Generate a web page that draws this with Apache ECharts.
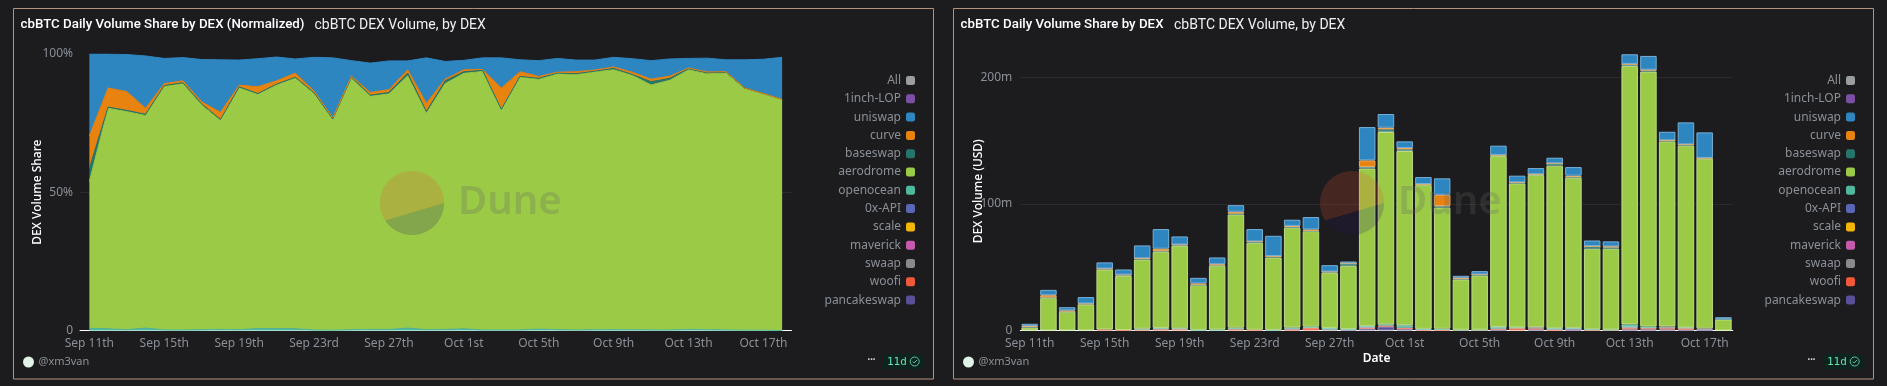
<!DOCTYPE html>
<html>
<head>
<meta charset="utf-8">
<title>cbBTC DEX Volume</title>
<style>
  html, body { margin: 0; padding: 0; background: #1c1c1e; }
  #chart { width: 1887px; height: 386px; }
</style>
<script src="https://cdn.jsdelivr.net/npm/echarts@6/dist/echarts.min.js"></script>
</head>
<body>
<div id="chart"></div>
<script>
const days = ['Sep 11th','Sep 12th','Sep 13th','Sep 14th','Sep 15th','Sep 16th','Sep 17th','Sep 18th','Sep 19th','Sep 20th','Sep 21st','Sep 22nd','Sep 23rd','Sep 24th','Sep 25th','Sep 26th','Sep 27th','Sep 28th','Sep 29th','Sep 30th','Oct 1st','Oct 2nd','Oct 3rd','Oct 4th','Oct 5th','Oct 6th','Oct 7th','Oct 8th','Oct 9th','Oct 10th','Oct 11th','Oct 12th','Oct 13th','Oct 14th','Oct 15th','Oct 16th','Oct 17th','Oct 18th'];

// legend order, top to bottom
const dexNames = ['All','1inch-LOP','uniswap','curve','baseswap','aerodrome','openocean','0x-API','scale','maverick','swaap','woofi','pancakeswap'];
const dexColors = ['#9b9ea1','#7a4fa5','#2e86c1','#e8830f','#25756a','#9aca46','#4fb89f','#5b66b5','#f2b705','#c55aad','#8a8a8a','#f05a3a','#5a4f9a'];

// normalized share, percent
const shareOpenocean = [0.8,0.6,0.3,0.9,0.2,0.2,0.3,0.4,0.3,0.7,0.7,0.6,0.2,0.1,0.3,0.4,0.4,0.9,0.3,0.4,0.6,0.2,0.2,0.2,0.5,0.3,0.2,0.3,0.3,0.3,0.2,0.2,0.4,0.3,0.2,0.1,0.1,0];
const shareAerodrome = [53.1,79.8,78.9,76.9,88.1,89.1,81.3,75.6,87.5,84.7,88.1,90.7,85.5,76.2,91,84.3,85.2,91.2,78.3,88.9,92.4,93.5,79.6,91.5,90.4,92.6,92.4,93.3,94,92,88.6,90.3,93.9,92.6,92.9,87.3,85.4,83.5];
const shareBaseswap = [4.8,0.4,0.4,0.4,0.3,0.3,0.3,0.3,0.3,0.3,0.3,0.3,0.3,0.2,0.3,0.4,0.5,1,0.6,1,0.6,0.4,0.2,0.2,0.3,0.2,0.3,0.2,0.5,0.3,1.2,0.7,0.4,0.3,0.4,0.3,0.2,0.1];
const shareCurve = [11.7,6.9,6.8,2.2,0.7,0.7,0.8,2.6,0.6,2.5,1.2,1.5,0.6,0.4,0.4,1,1,1.2,3,0.6,0.7,0.3,7.7,1.7,0.7,0.3,0.7,0.4,0.5,0.8,0.9,0.8,0.2,0.3,0.1,0,0,0];
const shareUniswap = [29.6,12.3,13.4,18.9,9.1,8.4,15.3,19,9.1,10.1,8.6,5.1,12.2,21.7,5.6,10.6,10.4,3.2,16.4,6.4,3.4,4.2,10.9,4.3,5.7,5,4.2,3.6,3.5,4.9,6.7,6.2,3.5,5,4.3,10.2,12.4,15.2];

// daily volume, million USD
const volPancakeswap = [0,0,0,0,0,0,0,0,0,0,0,0,0,0,0,0,0,0.8,1.5,3,1,0,0,0,0,0.3,0,0.8,0,0.6,0,0,0.8,0.8,0.8,0.5,0.5,0];
const volWoofi = [0,0,0,0,0.8,0.4,0.8,1,1.2,0,0,1,0.6,0,0.7,2,0,0,0.5,0.9,1.2,0.7,0.4,0.2,0.3,1,2,0.8,0.5,0.2,0.3,0.3,1,1,0.9,1.5,0,0];
const volSwaap = [0,0,0,0,0,0,0,0,0,0,0,0,0,0,0.8,0,1,0,1,0,0,0,0,0,0,0,0,1,0.7,0,0,0,1,0,1.5,0,1.2,0];
const vol0xApi = [0,0,0,0,0,0,0,0,0,0,0,0,0,0,0,0,0,0,0,0,0,0,0,0,0,0,0,0,0,0.6,0,0,0,0,0,0,0,0];
const volOpenocean = [0,0,0,0,0,0,0.6,1,0.5,0.5,0.7,1.2,0,0.5,0.8,1,1,0.3,0.5,1,2,0.6,1,0.4,0.3,1.5,0.4,0,0.6,0.5,0.7,0.4,2,1.3,0,0.3,0,0];
const volAerodrome = [2.4,25.8,14.8,20.6,47.4,42.8,54.7,60.2,65.2,35.3,50.4,89.5,68.7,57.2,78.9,75.5,43.6,50,124.5,151.9,137.6,113.6,95.8,39.7,42.9,135,113.8,120.2,128.4,118.8,63.6,63.9,204.2,201.4,146.2,143.9,134,8.7];
const volBaseswap = [0.4,0.3,0.3,0.3,0.5,0.8,0.8,0.5,0.8,0.4,0.4,0.6,1,1,0.7,0.3,0.8,1.8,1.2,2.1,1.3,0.6,1.1,0.3,0.6,0.8,0.6,0.6,1.8,0.5,2,1.3,1.4,1.2,0.8,0.8,0.5,0.2];
const volCurve = [0.7,1.8,0.7,0.4,0.2,0.1,0.2,1.9,0.2,1,0.9,1.5,0.1,0.1,0.7,1,0.1,0.1,5.2,1.3,1.1,0.2,8.9,1,0.2,0.1,0.3,0.1,0.1,1.1,0.1,0.5,0.2,0.3,0.1,0.1,0.1,0];
const volUniswap = [1.8,4.2,2.6,5.1,4.9,4.1,10.1,15.5,6.4,4.4,5.3,5.2,9.7,16,4.9,9.8,5.1,1.5,26.3,10.8,5.2,5.5,13,1.6,2.6,7.3,5.2,4.8,4.4,6.8,4.4,4,7.6,10.9,6.7,17.3,20.2,1.6];

const yTicksShare = [0, 50, 100];
const yTicksVolume = [0, 100, 200];

const FONT = '"Noto Sans", sans-serif';
const TITLE_FONT = 'Roboto, sans-serif';
const colorOf = name => dexColors[dexNames.indexOf(name)];

const chart = echarts.init(document.getElementById('chart'));

// stack order is bottom to top, the reverse of the legend
const volumeByDex = {
    pancakeswap: volPancakeswap, woofi: volWoofi, swaap: volSwaap, maverick: [], scale: [], '0x-API': vol0xApi,
    openocean: volOpenocean, aerodrome: volAerodrome, baseswap: volBaseswap, curve: volCurve, uniswap: volUniswap,
    '1inch-LOP': [], All: []
};
const shareByDex = {
    openocean: shareOpenocean, aerodrome: shareAerodrome, baseswap: shareBaseswap, curve: shareCurve, uniswap: shareUniswap
};

const barSeries = Object.keys(volumeByDex).map(name => ({
    name,
    type: 'bar',
    stack: 'volume',
    xAxisIndex: 1,
    yAxisIndex: 1,
    barWidth: 16.5,
    itemStyle: { color: colorOf(name), borderColor: echarts.color.lift(colorOf(name), 0.35), borderWidth: 1 },
    data: volumeByDex[name].map(v => v || null)
}));

const areaSeries = Object.keys(shareByDex).map(name => ({
    name,
    type: 'line',
    stack: 'share',
    xAxisIndex: 0,
    yAxisIndex: 0,
    symbol: 'none',
    itemStyle: { color: colorOf(name) },
    lineStyle: { width: 1, color: colorOf(name) },
    areaStyle: { color: colorOf(name), opacity: 1 },
    data: shareByDex[name]
}));

const xAxisBase = (gridIndex) => ({
    type: 'category',
    gridIndex,
    data: days,
    axisLine: { show: true, lineStyle: { color: '#ffffff', width: 1 } },
    axisTick: { show: false },
    axisLabel: { interval: 3, color: '#8b9098', fontFamily: FONT, fontSize: 12, margin: 7 },
    splitLine: { show: false }
});

const yAxisBase = (gridIndex) => ({
    type: 'value',
    gridIndex,
    min: 0,
    nameLocation: 'middle',
    nameGap: 36,
    nameMoveOverlap: false,
    nameTextStyle: { color: '#ffffff', fontFamily: FONT, fontSize: 12, fontWeight: 500 },
    axisLine: { show: false },
    axisTick: { show: false },
    splitLine: { show: true, showMaxLine: false, lineStyle: { color: '#2b2b2d', width: 1 } }
});

const legendBase = (right) => ({
    orient: 'vertical',
    right,
    top: 68.5,
    align: 'right',
    icon: 'roundRect',
    itemWidth: 9,
    itemHeight: 9,
    itemGap: 4.3,
    selectedMode: false,
    data: dexNames,
    itemStyle: { borderWidth: 0 },
    textStyle: { color: '#8b9098', fontFamily: FONT, fontSize: 12, lineHeight: 14, padding: [0, 0, 0, 0] }
});

// watermark pie, drawn as two polygons cut along one chord
const arcPoints = (cx, cy, r, from, to) => {
    const pts = [];
    for (let a = from; a <= to; a += 3) {
        pts.push([cx + r * Math.cos(a * Math.PI / 180), cy + r * Math.sin(a * Math.PI / 180)]);
    }
    return pts;
};

const panelGraphics = (dx, titleA, titleB, titleBx) => [
    { type: 'rect', z: 0, shape: { x: 13.5 + dx, y: 8.5, width: 920, height: 370.5 }, style: { fill: 'transparent', stroke: '#b98f80', lineWidth: 1 } },
    { type: 'text', z: 100, style: { x: 20.5 + dx, y: 25, text: titleA, fill: '#ffffff', font: '500 13.3px ' + TITLE_FONT, verticalAlign: 'middle' } },
    { type: 'text', z: 100, style: { x: titleBx + dx, y: 25, text: titleB, fill: '#f0f0f0', font: '400 14px ' + TITLE_FONT, verticalAlign: 'middle' } },
    { type: 'polygon', z: 100, shape: { points: arcPoints(412 + dx, 203, 32, 147, 360) }, style: { fill: 'rgba(240,80,40,0.2)' } },
    { type: 'polygon', z: 100, shape: { points: arcPoints(412 + dx, 203, 32, 0, 147) }, style: { fill: 'rgba(38,21,99,0.2)' } },
    { type: 'text', z: 100, style: { x: 458 + dx, y: 203, text: 'Dune', fill: 'rgba(100,100,100,0.25)', font: '600 40px ' + FONT, verticalAlign: 'middle' } },
    { type: 'circle', z: 100, shape: { cx: 28.5 + dx, cy: 362, r: 5.5 }, style: { fill: '#dff3e6' } },
    { type: 'text', z: 100, style: { x: 38.5 + dx, y: 362, text: '@xm3van', fill: '#8b9098', font: '11px ' + FONT, verticalAlign: 'middle' } },
    { type: 'text', z: 100, style: { x: 871.5 + dx, y: 360, text: '•••', fill: '#d8d8d8', font: '7px ' + FONT, align: 'center', verticalAlign: 'middle' } },
    { type: 'rect', z: 100, shape: { x: 883 + dx, y: 354, width: 40, height: 15, r: 3 }, style: { fill: '#0c2320' } },
    { type: 'text', z: 100, style: { x: 887 + dx, y: 362, text: '11d', fill: '#63e2a6', font: '11px "DejaVu Sans Mono", monospace', verticalAlign: 'middle' } },
    { type: 'circle', z: 100, shape: { cx: 914.7 + dx, cy: 361.5, r: 4.5 }, style: { fill: 'transparent', stroke: '#63c79a', lineWidth: 1 } },
    { type: 'polyline', z: 100, shape: { points: [[912.7 + dx, 361.5], [914.2 + dx, 363], [916.9 + dx, 360]] }, style: { fill: 'transparent', stroke: '#63c79a', lineWidth: 1 } }
];

const option = {
    backgroundColor: '#1c1c1e',
    animation: false,
    grid: [
        { left: 80, top: 54, width: 711.5, height: 276.5 },
        { left: 1020.3, top: 52, width: 712.5, height: 278.5 }
    ],
    legend: [legendBase(967), legendBase(27)],
    xAxis: [
        xAxisBase(0),
        Object.assign(xAxisBase(1), {
            name: 'Date',
            nameLocation: 'middle',
            nameGap: 22,
            nameMoveOverlap: false,
            nameTextStyle: { color: '#ffffff', fontFamily: FONT, fontSize: 12, fontWeight: 600 }
        })
    ],
    yAxis: [
        Object.assign(yAxisBase(0), {
            name: 'DEX Volume Share',
            max: yTicksShare[2],
            interval: yTicksShare[1],
            axisLabel: { color: '#8b9098', fontFamily: FONT, fontSize: 12, margin: 7, formatter: v => v === 0 ? '0' : v + '%' }
        }),
        Object.assign(yAxisBase(1), {
            name: 'DEX Volume (USD)',
            max: 220,
            interval: yTicksVolume[1],
            axisLabel: { color: '#8b9098', fontFamily: FONT, fontSize: 12, margin: 8, showMaxLabel: false, formatter: v => v === 0 ? '0' : v + 'm' }
        })
    ],
    series: barSeries.concat(areaSeries),
    graphic: panelGraphics(0, 'cbBTC Daily Volume Share by DEX (Normalized)', 'cbBTC DEX Volume, by DEX', 314.5)
        .concat(panelGraphics(940, 'cbBTC Daily Volume Share by DEX', 'cbBTC DEX Volume, by DEX', 234))
};

chart.setOption(option);
window.addEventListener('resize', () => chart.resize());
</script>
</body>
</html>
